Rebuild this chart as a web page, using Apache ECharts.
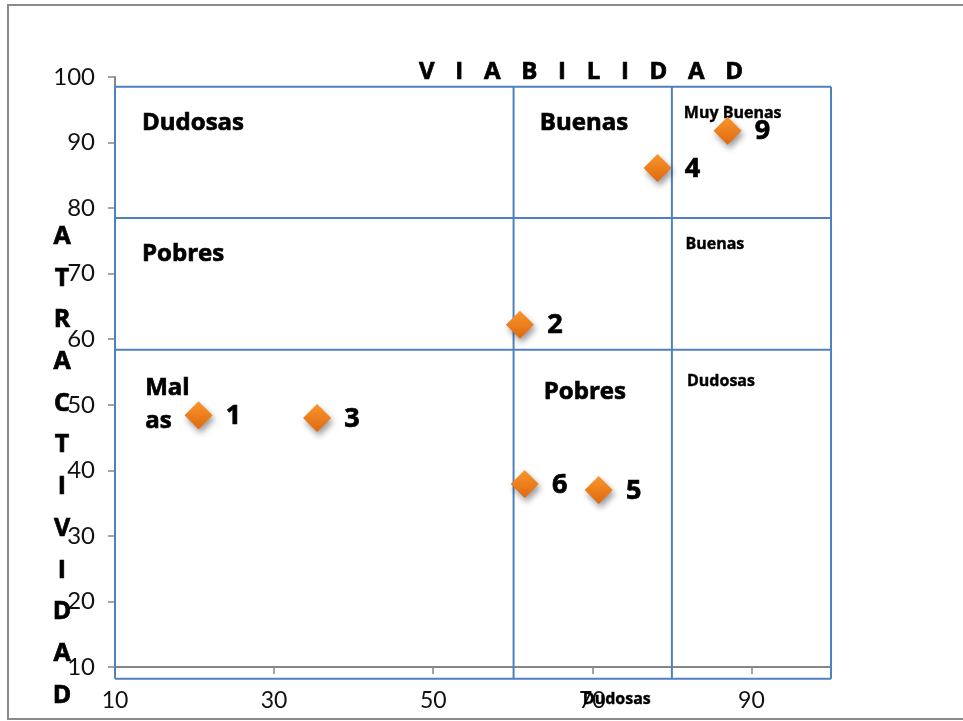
<!DOCTYPE html>
<html>
<head>
<meta charset="utf-8">
<script src="https://cdn.jsdelivr.net/npm/echarts@6/dist/echarts.min.js"></script>
<style>
  html, body { margin: 0; padding: 0; background: #fff; }
  #chart { width: 963px; height: 721px; }
</style>
</head>
<body>
<div id="chart"></div>
<script>
// Projects: viability (x) vs. attractiveness (y)
const pointNames   = ['1', '2', '3', '4', '5', '6', '9'];
const viabilidad   = [20.5, 60.9, 35.4, 78.2, 70.8, 61.5, 87.0];
const atractividad = [48.4, 62.2, 48.0, 86.1, 37.0, 37.9, 91.8];

// Tick labels
const xTickValues = [10, 30, 50, 70, 90];
const yTickValues = [10, 20, 30, 40, 50, 60, 70, 80, 90, 100];

// Boundaries of the 3x3 classification matrix (data units)
const matrixX = [10, 60.1, 80, 100];
const matrixY = [8.2, 58.4, 78.5, 98.5];

// Zone names and where they sit (data units)
const zoneMainNames = ['Dudosas', 'Buenas', 'Pobres', 'Mal\nas', 'Pobres'];
const zoneMainX     = [13.4, 63.4, 13.4, 13.8, 63.9];
const zoneMainY     = [93.0, 93.0, 72.9, 50.0, 51.9];
const zoneMinorNames = ['Muy Buenas', 'Buenas', 'Dudosas', 'Dudosas'];
const zoneMinorX     = [81.5, 81.7, 81.9, 68.8];
const zoneMinorY     = [94.4, 74.4, 53.6, 5.0];

const titleText  = 'V I A B I L I D A D';
const yTitleText = 'ATRACTIVIDAD';

const FONT = 'Lato, "Liberation Sans", sans-serif';
const BOLD = '"Open Sans", "Noto Sans", sans-serif';
const chart = echarts.init(document.getElementById('chart'));

// Title letters laid out with wide gaps, spaces kept as real characters
const titleRich = titleText.split('').map(ch => ch === ' ' ? '{s| }' : '{l|' + ch + '}').join('');

const zoneData = (names, xs, ys) => names.map((n, i) => ({ name: n, value: [xs[i], ys[i]] }));

// a hairline outline in the text colour makes the bold face a little heavier
const heavy = { textBorderColor: '#000', textBorderWidth: 0.7 };

const option = {
  animation: false,
  backgroundColor: '#fff',
  title: {
    text: titleRich,
    left: 576,
    top: 55,
    textAlign: 'center',
    textStyle: {
      rich: {
        l: Object.assign({ fontFamily: BOLD, fontWeight: 'bold', fontSize: 24, color: '#000' }, heavy),
        s: { fontFamily: BOLD, fontSize: 24, width: 20.7 }
      }
    }
  },
  graphic: [
    {
      type: 'rect', z: -10, silent: true,
      shape: { x: 8, y: 5, width: 1200, height: 714 },
      style: { fill: 'none', stroke: '#8a8a8a', lineWidth: 2 }
    },
    {
      type: 'text', z: 10, silent: true,
      x: 62, y: 216,
      style: Object.assign({
        text: yTitleText.split('').join('\n'),
        fontFamily: BOLD, fontWeight: 'bold', fontSize: 25,
        lineHeight: 41.7, fill: '#000', align: 'center'
      }, { stroke: '#000', lineWidth: 0.7 })
    }
  ],
  grid: { left: 115, top: 77, width: 716, height: 590, containLabel: false },
  xAxis: {
    type: 'value', min: 10, max: 100, interval: 20,
    axisLine: { show: true, onZero: false, lineStyle: { color: '#868686', width: 2 } },
    axisTick: { show: true, length: 7, customValues: [30, 50, 70, 90], lineStyle: { color: '#868686', width: 1.5 } },
    axisLabel: {
      customValues: xTickValues, margin: 22,
      fontFamily: FONT, fontSize: 23, color: '#111'
    },
    splitLine: { show: false }
  },
  yAxis: {
    type: 'value', min: 10, max: 100, interval: 10,
    axisLine: { show: true, onZero: false, lineStyle: { color: '#868686', width: 2 } },
    axisTick: { show: true, length: 7, customValues: yTickValues, lineStyle: { color: '#868686', width: 1.5 } },
    axisLabel: {
      customValues: yTickValues, margin: 20,
      fontFamily: FONT, fontSize: 24, color: '#111'
    },
    splitLine: { show: false }
  },
  series: [
    {
      // classification matrix
      type: 'custom',
      silent: true,
      clip: false,
      z: 3,
      data: [[10, 10]],
      renderItem: (params, api) => {
        const children = [];
        const yBot = matrixY[0], yTop = matrixY[matrixY.length - 1];
        const xL = matrixX[0], xR = matrixX[matrixX.length - 1];
        const lineStyle = { stroke: '#4F81BD', lineWidth: 2 };
        matrixX.forEach(x => {
          const a = api.coord([x, yTop]), b = api.coord([x, yBot]);
          children.push({ type: 'line', shape: { x1: a[0], y1: a[1], x2: b[0], y2: b[1] }, style: lineStyle });
        });
        matrixY.forEach(y => {
          const a = api.coord([xL, y]), b = api.coord([xR, y]);
          children.push({ type: 'line', shape: { x1: a[0], y1: a[1], x2: b[0], y2: b[1] }, style: lineStyle });
        });
        return { type: 'group', children };
      }
    },
    {
      // large zone names
      type: 'scatter', silent: true, clip: false, z: 4,
      symbolSize: 0,
      itemStyle: { opacity: 1 },
      data: zoneData(zoneMainNames, zoneMainX, zoneMainY),
      label: Object.assign({
        show: true, position: 'right', distance: 0,
        formatter: p => p.name,
        fontFamily: BOLD, fontWeight: 'bold', fontSize: 24, lineHeight: 33, color: '#000', opacity: 1
      }, heavy)
    },
    {
      // small zone names
      type: 'scatter', silent: true, clip: false, z: 4,
      symbolSize: 0,
      itemStyle: { opacity: 1 },
      data: zoneData(zoneMinorNames, zoneMinorX, zoneMinorY),
      label: Object.assign({
        show: true, position: 'right', distance: 0,
        formatter: p => p.name,
        fontFamily: BOLD, fontWeight: 'bold', fontSize: 16, color: '#000', opacity: 1
      }, { textBorderColor: '#000', textBorderWidth: 0.4 })
    },
    {
      // projects
      type: 'scatter', z: 5,
      symbol: 'diamond',
      symbolSize: 28,
      data: pointNames.map((n, i) => ({ name: n, value: [viabilidad[i], atractividad[i]] })),
      itemStyle: {
        opacity: 1,
        color: new echarts.graphic.LinearGradient(0, 0, 0, 1, [
          { offset: 0, color: '#F9962E' },
          { offset: 1, color: '#E0680C' }
        ]),
        shadowBlur: 6,
        shadowOffsetX: 2,
        shadowOffsetY: 4,
        shadowColor: 'rgba(0,0,0,0.4)'
      },
      label: Object.assign({
        show: true, position: 'inside', offset: [35, 1],
        formatter: p => p.name,
        fontFamily: BOLD, fontWeight: 'bold', fontSize: 27, color: '#000', opacity: 1
      }, heavy)
    }
  ]
};

chart.setOption(option);
</script>
</body>
</html>
